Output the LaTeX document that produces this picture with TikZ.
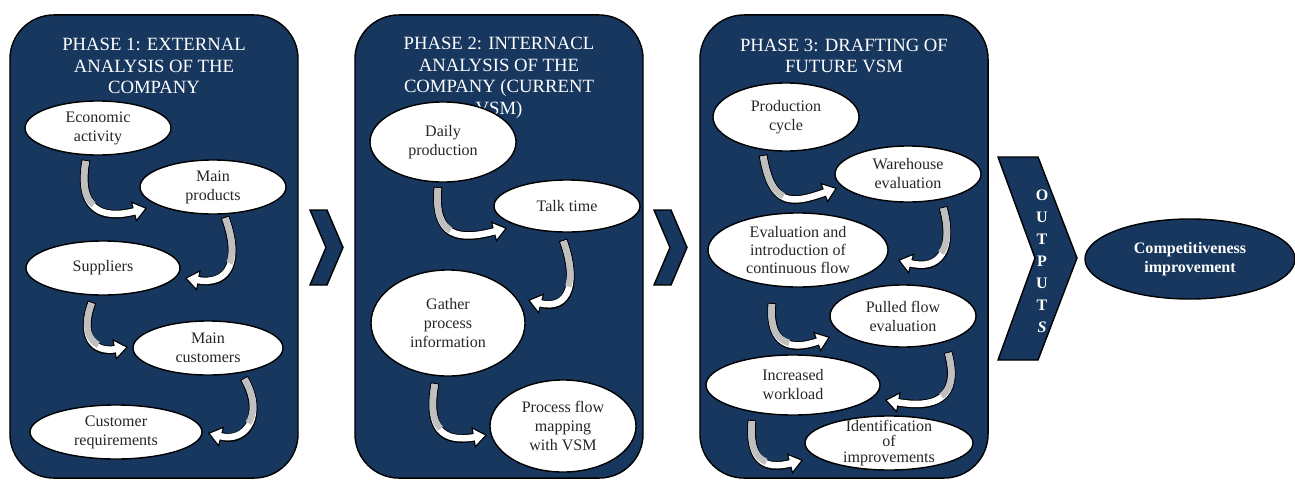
\documentclass[tikz,border=0pt]{standalone}
\usepackage{fontspec}
\setmainfont{Liberation Serif}
\usepackage{tikz}
\usetikzlibrary{arrows.meta,shapes.geometric,calc}
\definecolor{phaseblue}{RGB}{23,55,94}
\definecolor{bandgray}{RGB}{191,191,191}

\begin{document}
\begin{tikzpicture}[x=0.025cm, y=0.025cm,
        phase/.style={draw, line width=1pt, fill=phaseblue, rounded corners=1.1cm,
                      minimum width=7.2cm, minimum height=11.575cm},
        title/.style={text=white, align=center, inner sep=0pt,
                      font=\fontsize{13.3}{15.3}\selectfont},
        item/.style={draw, line width=1pt, fill=white, ellipse, inner sep=0pt,
                     align=center, text=black!85, font=\fontsize{11.4}{13.5}\selectfont},
        rad/.style 2 args={minimum width=#1*0.05cm, minimum height=#2*0.05cm},
        chev/.style={draw, line width=1pt, fill=phaseblue},
        turn/.style={draw=black, line width=6.2pt,
                     -{Triangle[length=10pt, width=15pt, fill=white, line width=0.8pt]},
                     postaction={draw=white, line width=4.6pt, -, shorten <=0.8pt, shorten >=8.2pt},
                     postaction={draw=bandgray, line width=4.6pt, -, shorten <=0.8pt,
                                 dash pattern=on 33pt off 600pt}},
    ]
    \useasboundingbox (0,0) rectangle (1295,-481);

    % Phase panels
    \node[phase] (p1) at (154,-246.5) {};
    \node[phase] (p2) at (499,-246.5) {};
    \node[phase] (p3) at (844,-246.5) {};

    \node[title] (t1) at (154,-66) {PHASE 1: EXTERNAL\\ANALYSIS OF THE\\COMPANY};
    \node[title] (t2) at (499,-78) {PHASE 2: INTERNACL\\ANALYSIS OF THE\\COMPANY (CURRENT\\VSM)};
    \node[title] (t3) at (844,-56) {PHASE 3: DRAFTING OF\\FUTURE VSM};

    % Chevrons between the panels
    \draw[chev] (310,-210) -- (327,-210) -- (343,-247.5) -- (327,-285) -- (310,-285) -- (326,-247.5) -- cycle;
    \draw[chev] (654,-210) -- (671,-210) -- (687,-247.5) -- (671,-285) -- (654,-285) -- (670,-247.5) -- cycle;

    % Phase 1 steps
    \node[item, rad={73}{27}] (econ) at (98,-128) {Economic\\activity};
    \node[item, rad={73}{27}] (prod) at (213,-187) {Main\\products};
    \node[item, rad={77}{27}] (supp) at (103,-268) {Suppliers};
    \node[item, rad={75}{27}] (cust) at (208,-348) {Main\\customers};
    \node[item, rad={86}{27}] (req) at (116,-432) {Customer\\requirements};

    % Phase 2 steps
    \node[item, rad={73}{40}] (daily) at (443,-142) {Daily\\production};
    \node[item, rad={73}{26}] (talk) at (567,-206) {Talk time};
    \node[item, rad={77}{53}] (gather) at (448,-323) {Gather\\process\\information};
    \node[item, rad={73}{46}] (pfm) at (563,-426) {Process flow\\mapping\\with VSM};

    % Phase 3 steps
    \node[item, rad={73}{34}] (cycle) at (786,-117) {Production\\cycle};
    \node[item, rad={73}{28}] (ware) at (908,-174) {Warehouse\\evaluation};
    \node[item, rad={90}{37}, font=\fontsize{11.4}{12.8}\selectfont] (contflow) at (798,-250)
        {Evaluation and\\introduction of\\continuous flow};
    \node[item, rad={73}{31}] (pulled) at (903,-316) {Pulled flow\\evaluation};
    \node[item, rad={87}{30}] (load) at (793,-385) {Increased\\workload};
    \node[item, rad={84}{27}, inner ysep=-3pt, font=\fontsize{11.4}{11}\selectfont] (ident) at (889,-443)
        {Identification\\of\\improvements};

    % Curved arrows, phase 1
    \draw[turn] ($(econ)+(-12,-32)$) to[out=260, in=195, looseness=1.6] ($(prod)+(-66,-21)$);
    \draw[turn] ($(prod)+(12,-30)$) to[out=290, in=350, looseness=1.6] ($(supp)+(82,-10)$);
    \draw[turn] ($(supp)+(-11,-34)$) to[out=250, in=190, looseness=1.6] ($(cust)+(-80,1)$);
    \draw[turn] ($(cust)+(36,-30)$) to[out=300, in=345, looseness=1.6] ($(req)+(92,-1)$);

    % Curved arrows, phase 2
    \draw[turn] ($(daily)+(-5,-45)$) to[out=265, in=195, looseness=1.6] ($(talk)+(-60,-22)$);
    \draw[turn] ($(talk)+(-4,-34)$) to[out=290, in=345, looseness=1.6] ($(gather)+(80,23)$);
    \draw[turn] ($(gather)+(-13,-60)$) to[out=260, in=190, looseness=1.6] ($(pfm)+(-76,-9)$);

    % Curved arrows, phase 3
    \draw[turn] ($(cycle)+(-23,-38)$) to[out=280, in=200, looseness=1.6] ($(ware)+(-71,-14)$);
    \draw[turn] ($(ware)+(35,-33)$) to[out=285, in=345, looseness=1.6] ($(contflow)+(100,-10)$);
    \draw[turn] ($(contflow)+(-26,-53)$) to[out=265, in=200, looseness=1.6] ($(pulled)+(-73,-21)$);
    \draw[turn] ($(pulled)+(45,-36)$) to[out=285, in=350, looseness=1.6] ($(load)+(92,-15)$);
    \draw[turn] ($(load)+(-41,-35)$) to[out=265, in=195, looseness=1.6] ($(ident)+(-86,-17)$);

    % Outputs
    \draw[chev] (998,-157) -- (1038,-157) -- (1077,-258) -- (1038,-360) -- (998,-360) -- (1035,-258) -- cycle;
    \node[text=white, align=center, inner sep=0pt, font=\fontsize{11.4}{15.6}\selectfont\bfseries]
        (outputs) at (1042,-261) {O\\U\\T\\P\\U\\T\\\textit{S}};
    \node[draw, line width=1pt, ellipse, fill=phaseblue, text=white, align=center, inner sep=0pt,
          rad={105}{40}, font=\fontsize{11.4}{13.5}\selectfont\bfseries] (compet) at (1190,-259)
        {Competitiveness\\improvement};
\end{tikzpicture}
\end{document}
